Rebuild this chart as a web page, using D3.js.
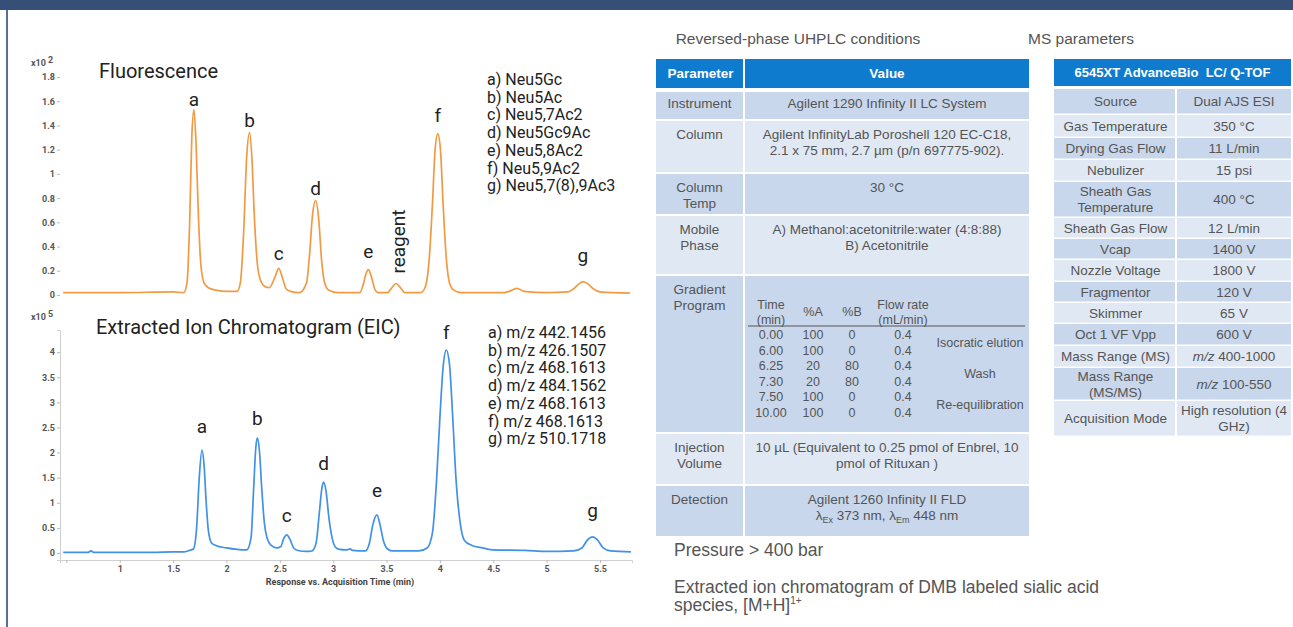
<!DOCTYPE html>
<html>
<head>
<meta charset="utf-8">
<script src="https://cdn.jsdelivr.net/npm/d3@7"></script>
<style>
  body { margin: 0; background: #fff; }
  svg { display: block; }
  .chart text { font-family: Roboto, "Liberation Sans", sans-serif; }
  .tbl text { font-family: "Liberation Sans", Arial, sans-serif; fill: #555; font-size: 13.5px; }
</style>
</head>
<body>
<svg id="poster" width="1293" height="627"></svg>
<script>
// ---- chromatogram data, [time (min), response] ----
// fluorescence, response x10^2
const fluoTrace = [
  [0.47, 0.02], [1.0, 0.02], [1.5, 0.025], [1.6, 0.02], [1.63, 0.1], [1.655, 0.6], [1.675, 1.3],
  [1.695, 1.53], [1.715, 1.25], [1.735, 0.7], [1.76, 0.25], [1.79, 0.1], [1.83, 0.06], [1.9, 0.04],
  [2.0, 0.03], [2.1, 0.03], [2.13, 0.1], [2.16, 0.5], [2.19, 1.15], [2.217, 1.34], [2.24, 1.1],
  [2.26, 0.67], [2.29, 0.25], [2.32, 0.12], [2.36, 0.07], [2.4, 0.06], [2.455, 0.15], [2.49, 0.22],
  [2.525, 0.14], [2.56, 0.05], [2.6, 0.03], [2.685, 0.02], [2.75, 0.1], [2.78, 0.35], [2.805, 0.65],
  [2.835, 0.78], [2.865, 0.62], [2.89, 0.3], [2.92, 0.1], [2.96, 0.04], [3.05, 0.02], [3.25, 0.02],
  [3.28, 0.08], [3.305, 0.17], [3.33, 0.21], [3.355, 0.16], [3.385, 0.06], [3.42, 0.02], [3.51, 0.02],
  [3.55, 0.06], [3.59, 0.095], [3.63, 0.06], [3.67, 0.02], [3.82, 0.02], [3.86, 0.06], [3.9, 0.3],
  [3.93, 0.75], [3.955, 1.2], [3.98, 1.33], [4.005, 1.2], [4.03, 0.75], [4.06, 0.3], [4.09, 0.1],
  [4.13, 0.04], [4.2, 0.02], [4.6, 0.02], [4.65, 0.03], [4.72, 0.055], [4.79, 0.03], [5.0, 0.02],
  [5.2, 0.025], [5.25, 0.05], [5.3, 0.09], [5.34, 0.11], [5.39, 0.09], [5.44, 0.05], [5.5, 0.025],
  [5.78, 0.015]
];
// extracted ion chromatogram, response x10^5
const eicTrace = [
  [0.47, 0.01], [0.7, 0.01], [0.73, 0.04], [0.76, 0.01], [1.0, 0.01], [1.3, 0.01], [1.5, 0.02],
  [1.6, 0.02], [1.65, 0.05], [1.69, 0.08], [1.72, 0.5], [1.745, 1.5], [1.77, 2.05], [1.79, 1.75],
  [1.81, 1.0], [1.83, 0.45], [1.86, 0.2], [1.9, 0.15], [2.0, 0.1], [2.1, 0.07], [2.19, 0.06],
  [2.23, 0.3], [2.255, 1.3], [2.275, 2.1], [2.29, 2.29], [2.31, 2.0], [2.33, 1.3], [2.355, 0.6],
  [2.38, 0.3], [2.42, 0.15], [2.47, 0.1], [2.51, 0.13], [2.535, 0.28], [2.565, 0.36], [2.595, 0.27],
  [2.63, 0.1], [2.67, 0.05], [2.75, 0.03], [2.8, 0.04], [2.84, 0.2], [2.87, 0.8], [2.895, 1.3],
  [2.91, 1.41], [2.935, 1.2], [2.96, 0.7], [2.99, 0.3], [3.02, 0.12], [3.06, 0.07], [3.12, 0.06],
  [3.16, 0.08], [3.18, 0.05], [3.3, 0.04], [3.34, 0.2], [3.37, 0.55], [3.41, 0.76], [3.44, 0.55],
  [3.47, 0.25], [3.51, 0.08], [3.56, 0.04], [3.8, 0.04], [3.88, 0.1], [3.93, 0.4], [3.97, 1.5],
  [4.0, 2.7], [4.03, 3.7], [4.06, 4.04], [4.09, 3.75], [4.12, 2.7], [4.15, 1.5], [4.19, 0.6],
  [4.23, 0.25], [4.3, 0.15], [4.4, 0.1], [4.5, 0.06], [4.8, 0.05], [5.0, 0.03], [5.25, 0.04],
  [5.33, 0.1], [5.38, 0.25], [5.43, 0.32], [5.48, 0.25], [5.53, 0.1], [5.6, 0.04], [5.79, 0.02]
];

// peak letters, [label, time, apex]
const fluoPeaks = [["a", 1.695, 1.53], ["b", 2.217, 1.34], ["c", 2.49, 0.22], ["d", 2.835, 0.78],
  ["e", 3.33, 0.21], ["f", 3.98, 1.33], ["g", 5.34, 0.11]];
const eicPeaks = [["a", 1.77, 2.05], ["b", 2.29, 2.29], ["c", 2.565, 0.36], ["d", 2.91, 1.41],
  ["e", 3.41, 0.76], ["f", 4.06, 4.04], ["g", 5.43, 0.32]];
const reagentPeak = ["reagent", 3.59, 0.095];

const fluoLegend = ["a) Neu5Gc", "b) Neu5Ac", "c) Neu5,7Ac2", "d) Neu5Gc9Ac", "e) Neu5,8Ac2",
  "f) Neu5,9Ac2", "g) Neu5,7(8),9Ac3"];
const eicLegend = ["a) m/z 442.1456", "b) m/z 426.1507", "c) m/z 468.1613", "d) m/z 484.1562",
  "e) m/z 468.1613", "f) m/z 468.1613", "g) m/z 510.1718"];

const xTicks = [0.5, 1, 1.5, 2, 2.5, 3, 3.5, 4, 4.5, 5, 5.5];
const xTickLabels = ["", "1", "1.5", "2", "2.5", "3", "3.5", "4", "4.5", "5", "5.5"];
const fluoTicks = [0, 0.2, 0.4, 0.6, 0.8, 1, 1.2, 1.4, 1.6, 1.8];
const fluoTickLabels = ["0", "0.2", "0.4", "0.6", "0.8", "1", "1.2", "1.4", "1.6", "1.8"];
const eicTicks = [0, 0.5, 1, 1.5, 2, 2.5, 3, 3.5, 4];
const eicTickLabels = ["0", "0.5", "1", "1.5", "2", "2.5", "3", "3.5", "4"];

// ---- table text ----
const lcParams = [["Instrument"], ["Column"], ["Column", "Temp"], ["Mobile", "Phase"],
  ["Gradient", "Program"], ["Injection", "Volume"], ["Detection"]];
const lcValues = [
  ["Agilent 1290 Infinity II LC System"],
  ["Agilent InfinityLab Poroshell 120 EC-C18,", "2.1 x 75 mm, 2.7 µm (p/n 697775-902)."],
  ["30 °C"],
  ["A) Methanol:acetonitrile:water (4:8:88)", "B) Acetonitrile"],
  [],
  ["10 µL (Equivalent to 0.25 pmol of Enbrel, 10", "pmol of Rituxan )"],
  ["Agilent 1260 Infinity II FLD"]
];
const gradHead = [["Time", "(min)"], ["%A"], ["%B"], ["Flow rate", "(mL/min)"]];
const gradTime = ["0.00", "6.00", "6.25", "7.30", "7.50", "10.00"];
const gradA = ["100", "100", "20", "20", "100", "100"];
const gradB = ["0", "0", "80", "80", "0", "0"];
const gradFlow = ["0.4", "0.4", "0.4", "0.4", "0.4", "0.4"];
const gradNotes = ["Isocratic elution", "Wash", "Re-equilibration"];

const msParams = [["Source"], ["Gas Temperature"], ["Drying Gas Flow"], ["Nebulizer"],
  ["Sheath Gas", "Temperature"], ["Sheath Gas Flow"], ["Vcap"], ["Nozzle Voltage"], ["Fragmentor"],
  ["Skimmer"], ["Oct 1 VF Vpp"], ["Mass Range (MS)"], ["Mass Range", "(MS/MS)"], ["Acquisition Mode"]];
const msValues = [["Dual AJS ESI"], ["350 °C"], ["11 L/min"], ["15 psi"], ["400 °C"], ["12 L/min"],
  ["1400 V"], ["1800 V"], ["120 V"], ["65 V"], ["600 V"], ["m/z 400-1000"], ["m/z 100-550"],
  ["High resolution (4", "GHz)"]];

const svg = d3.select("#poster");
const navy = "#354f77";

// frame
svg.append("rect").attr("x", 0).attr("y", 0).attr("width", 1293).attr("height", 10).attr("fill", navy);
svg.append("rect").attr("x", 6).attr("y", 10).attr("width", 2).attr("height", 617).attr("fill", "#5a6f98");

// ---- chromatograms ----
const chart = svg.append("g").attr("class", "chart");
const x = d3.scaleLinear().domain([0.44, 5.8]).range([60, 632]);
const yF = d3.scaleLinear().domain([0, 1.8]).range([295, 77]);
const yE = d3.scaleLinear().domain([-0.14, 4.44]).range([560, 330]);

function yAxis(g, scale, ticks, labels, showLine) {
  const ax = g.append("g").attr("transform", "translate(60,0)")
    .call(d3.axisLeft(scale).tickValues(ticks).tickSize(3).tickPadding(2)
      .tickFormat((d, i) => labels[i]));
  ax.select(".domain").attr("stroke", showLine ? "#d0d0d0" : "none");
  ax.selectAll(".tick line").attr("stroke", "#bbb");
  ax.selectAll(".tick text").attr("fill", "#555").style("font-size", "9px").style("font-weight", "bold");
}
function traceLine(g, data, scale, color) {
  const line = d3.line().x(d => x(d[0])).y(d => scale(d[1])).curve(d3.curveMonotoneX);
  g.append("path").datum(data).attr("d", line).attr("fill", "none")
    .attr("stroke", color).attr("stroke-width", 1.7).attr("stroke-linejoin", "round");
}
function multiplier(g, ypos, exp) {
  const t = g.append("text").attr("x", 31).attr("y", ypos).attr("fill", "#555")
    .style("font-size", "9px").style("font-weight", "bold").text("x10");
  t.append("tspan").attr("dx", 2).attr("dy", -3).text(exp);
}
function legend(g, items, x0, y0) {
  g.append("g").selectAll("text").data(items).join("text")
    .attr("x", x0).attr("y", (d, i) => y0 + i * 17.7)
    .attr("fill", "#222").style("font-size", "16px").text(d => d);
}
function peakLabels(g, peaks, scale, dys) {
  g.append("g").selectAll("text").data(peaks).join("text")
    .attr("x", d => x(d[1])).attr("y", (d, i) => scale(d[2]) + dys[i])
    .attr("text-anchor", "middle").attr("fill", "#222").style("font-size", "19px").text(d => d[0]);
}

// Fluorescence
const fluoG = chart.append("g");
yAxis(fluoG, yF, fluoTicks, fluoTickLabels, false);
multiplier(fluoG, 66, "2");
traceLine(fluoG, fluoTrace, yF, "#f29a43");
fluoG.append("text").attr("x", 99).attr("y", 78).attr("fill", "#222").style("font-size", "20px").text("Fluorescence");
legend(fluoG, fluoLegend, 487, 85);
peakLabels(fluoG, fluoPeaks, yF, [-4, -6, -8, -6, -12, -12, -20]);
fluoG.append("text")
  .attr("transform", `translate(${x(reagentPeak[1]) + 9},${yF(reagentPeak[2]) - 42}) rotate(-90)`)
  .attr("text-anchor", "middle").attr("fill", "#222").style("font-size", "19px").text(reagentPeak[0]);

// EIC
const eicG = chart.append("g");
yAxis(eicG, yE, eicTicks, eicTickLabels, true);
multiplier(eicG, 320, "5");
const xa = eicG.append("g").attr("transform", "translate(0,560)")
  .call(d3.axisBottom(x).tickValues(xTicks).tickSize(3).tickPadding(3).tickFormat((d, i) => xTickLabels[i]));
xa.select(".domain").attr("stroke", "#d0d0d0");
xa.selectAll(".tick line").attr("stroke", "#bbb");
xa.selectAll(".tick text").attr("fill", "#555").style("font-size", "9px").style("font-weight", "bold");
eicG.append("text").attr("x", 340).attr("y", 585).attr("text-anchor", "middle").attr("fill", "#444")
  .style("font-size", "9px").style("font-weight", "bold").text("Response vs. Acquisition Time (min)");
traceLine(eicG, eicTrace, yE, "#4191e6");
eicG.append("text").attr("x", 96).attr("y", 334).attr("fill", "#222").style("font-size", "20px")
  .text("Extracted Ion Chromatogram (EIC)");
legend(eicG, eicLegend, 488, 338);
peakLabels(eicG, eicPeaks, yE, [-17, -13, -13, -12, -18, -11, -20]);

// ---- tables ----
const tbl = svg.append("g").attr("class", "tbl");
const dark = "#c8d7eb", light = "#dfe8f3", headBlue = "#0f7bcf";

function lines(g, arr, cx, cy, step, anchor) {
  const t = g.append("text").attr("text-anchor", anchor || "middle");
  arr.forEach((s, i) => {
    const ts = t.append("tspan").attr("x", cx).attr("y", cy + i * step);
    if (s.startsWith("m/z ")) {
      ts.append("tspan").style("font-style", "italic").text("m/z");
      ts.append("tspan").text(s.slice(3));
    } else ts.text(s);
  });
  return t;
}

tbl.append("text").attr("x", 798).attr("y", 44).attr("text-anchor", "middle")
  .style("font-size", "15.5px").text("Reversed-phase UHPLC conditions");
tbl.append("text").attr("x", 1081).attr("y", 44).attr("text-anchor", "middle")
  .style("font-size", "15.5px").text("MS parameters");

// LC table
const lcX0 = 656, lcX1 = 745, lcX2 = 1029;
tbl.append("rect").attr("x", lcX0).attr("y", 59).attr("width", lcX1 - lcX0 - 2).attr("height", 29).attr("fill", headBlue);
tbl.append("rect").attr("x", lcX1).attr("y", 59).attr("width", lcX2 - lcX1).attr("height", 29).attr("fill", headBlue);
tbl.append("text").attr("x", (lcX0 + lcX1) / 2).attr("y", 78).attr("text-anchor", "middle")
  .style("fill", "#fff").style("font-weight", "bold").text("Parameter");
tbl.append("text").attr("x", (lcX1 + lcX2) / 2).attr("y", 78).attr("text-anchor", "middle")
  .style("fill", "#fff").style("font-weight", "bold").text("Value");

const lcRowH = [27, 51, 40, 58, 156, 50, 50];
let yy = 92;
lcParams.forEach((p, i) => {
  const fill = i % 2 ? light : dark;
  tbl.append("rect").attr("x", lcX0).attr("y", yy).attr("width", lcX1 - lcX0 - 2).attr("height", lcRowH[i]).attr("fill", fill);
  tbl.append("rect").attr("x", lcX1).attr("y", yy).attr("width", lcX2 - lcX1).attr("height", lcRowH[i]).attr("fill", fill);
  const ty = i === 0 ? yy + 16 : yy + 18;
  lines(tbl, p, (lcX0 + lcX1) / 2 - 1, ty, 16);
  lines(tbl, lcValues[i], (lcX1 + lcX2) / 2, ty, 16);
  if (i === 6) {
    const t = tbl.append("text").attr("x", (lcX1 + lcX2) / 2).attr("y", ty + 16).attr("text-anchor", "middle");
    t.append("tspan").text("λ");
    t.append("tspan").attr("dy", 3).style("font-size", "9px").text("Ex");
    t.append("tspan").attr("dy", -3).text(" 373 nm, λ");
    t.append("tspan").attr("dy", 3).style("font-size", "9px").text("Em");
    t.append("tspan").attr("dy", -3).text(" 448 nm");
  }
  if (i === 4) {
    // gradient sub-table
    const sub = tbl.append("g");
    const cols = [771, 813, 852, 903];
    gradHead.forEach((h, j) => {
      const gy = h.length === 2 ? yy + 33 : yy + 40;
      lines(sub, h, cols[j], gy, 15).style("font-size", "12.5px");
    });
    sub.append("line").attr("x1", 748).attr("x2", 1025).attr("y1", yy + 50).attr("y2", yy + 50)
      .attr("stroke", "#555").attr("stroke-width", 1.2);
    [gradTime, gradA, gradB, gradFlow].forEach((col, j) => {
      col.forEach((v, k) => {
        sub.append("text").attr("x", cols[j]).attr("y", yy + 63 + k * 15.6).attr("text-anchor", "middle")
          .style("font-size", "12.5px").text(v);
      });
    });
    gradNotes.forEach((n, k) => {
      sub.append("text").attr("x", 980).attr("y", yy + 71 + k * 31).attr("text-anchor", "middle")
        .style("font-size", "12.5px").text(n);
    });
  }
  yy += lcRowH[i] + 2;
});

tbl.append("text").attr("x", 674).attr("y", 556).style("font-size", "17.5px").text("Pressure > 400 bar");
tbl.append("text").attr("x", 674).attr("y", 593).style("font-size", "17.5px")
  .text("Extracted ion chromatogram of DMB labeled sialic acid");
const sp = tbl.append("text").attr("x", 674).attr("y", 611).style("font-size", "17.5px").text("species, [M+H]");
sp.append("tspan").attr("dy", -7).style("font-size", "10px").text("1+");

// MS table
const msX0 = 1054, msX1 = 1177, msX2 = 1291;
const msBounds = [89, 115, 138, 160, 182, 218, 239, 260, 282, 303, 324, 346, 368, 401, 437];
tbl.append("rect").attr("x", msX0).attr("y", 59).attr("width", msX2 - msX0).attr("height", 27).attr("fill", headBlue);
tbl.append("text").attr("x", (msX0 + msX2) / 2).attr("y", 77).attr("text-anchor", "middle")
  .style("fill", "#fff").style("font-weight", "bold").style("font-size", "13px").style("white-space", "pre")
  .text("6545XT AdvanceBio  LC/ Q-TOF");
msParams.forEach((p, i) => {
  const y0 = msBounds[i], h = msBounds[i + 1] - y0 - 1.5, fill = i % 2 ? light : dark;
  tbl.append("rect").attr("x", msX0).attr("y", y0).attr("width", msX1 - msX0 - 2).attr("height", h).attr("fill", fill);
  tbl.append("rect").attr("x", msX1).attr("y", y0).attr("width", msX2 - msX1).attr("height", h).attr("fill", fill);
  const cy = y0 + h / 2 + 5;
  lines(tbl, p, (msX0 + msX1) / 2, cy - (p.length - 1) * 8, 16);
  lines(tbl, msValues[i], (msX1 + msX2) / 2, cy - (msValues[i].length - 1) * 8, 16);
});
</script>
</body>
</html>
